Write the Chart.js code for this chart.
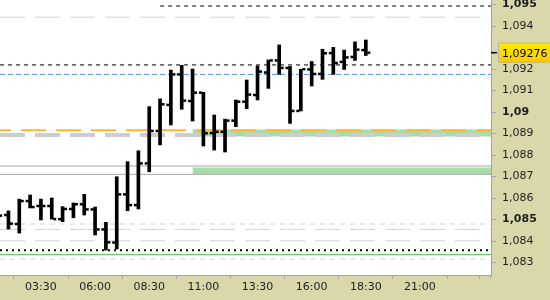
<!DOCTYPE html>
<html lang="en">
<head>
<meta charset="UTF-8">
<title>30m bars</title>
<script src="https://cdn.jsdelivr.net/npm/chart.js"></script>
<style>
  body { margin: 0; background: #fff; }
</style>
</head>
<body>
<canvas id="chart" width="550" height="300"></canvas>
<script>
// 30 minute bars, time in hours of the day
var times  = [1.5, 2, 2.5, 3, 3.5, 4, 4.5, 5, 5.5, 6, 6.5, 7, 7.5, 8, 8.5, 9, 9.5, 10, 10.5, 11, 11.5, 12, 12.5, 13, 13.5, 14, 14.5, 15, 15.5, 16, 16.5, 17, 17.5, 18, 18.5];
var opens  = [1.08520, 1.08521, 1.08479, 1.08586, 1.08563, 1.08563, 1.08502, 1.08549, 1.08571, 1.08547, 1.08454, 1.08393, 1.08617, 1.08567, 1.08761, 1.08912, 1.09033, 1.09175, 1.09051, 1.09090, 1.08902, 1.08908, 1.08960, 1.09048, 1.09079, 1.09184, 1.09240, 1.09205, 1.09005, 1.09198, 1.09177, 1.09274, 1.09233, 1.09256, 1.09288];
var highs  = [1.08540, 1.08540, 1.08595, 1.08614, 1.08595, 1.08600, 1.08560, 1.08577, 1.08617, 1.08558, 1.08487, 1.08699, 1.08769, 1.08820, 1.09025, 1.09061, 1.09195, 1.09217, 1.09200, 1.09092, 1.08986, 1.08967, 1.09056, 1.09149, 1.09214, 1.09242, 1.09312, 1.09212, 1.09199, 1.09235, 1.09292, 1.09301, 1.09288, 1.09326, 1.09335];
var lows   = [1.08490, 1.08456, 1.08437, 1.08554, 1.08498, 1.08502, 1.08490, 1.08508, 1.08521, 1.08428, 1.08358, 1.08363, 1.08541, 1.08549, 1.08722, 1.08847, 1.08940, 1.09013, 1.08958, 1.08842, 1.08823, 1.08814, 1.08932, 1.09016, 1.09056, 1.09110, 1.09175, 1.08947, 1.09005, 1.09121, 1.09152, 1.09175, 1.09198, 1.09240, 1.09263];
var closes = [1.08518, 1.08481, 1.08586, 1.08558, 1.08563, 1.08502, 1.08549, 1.08571, 1.08547, 1.08454, 1.08394, 1.08617, 1.08567, 1.08761, 1.08912, 1.09036, 1.09175, 1.09053, 1.09090, 1.08901, 1.08908, 1.08960, 1.09048, 1.09081, 1.09188, 1.09240, 1.09205, 1.09005, 1.09199, 1.09177, 1.09273, 1.09228, 1.09254, 1.09290, 1.09276];

// axis ticks
var yTicks  = [1.083, 1.084, 1.085, 1.086, 1.087, 1.088, 1.089, 1.090, 1.091, 1.092, 1.094, 1.095];
var xTicks  = [3.5, 6, 8.5, 11, 13.5, 16, 18.5, 21, 23.5, 24];
var xLabels = ['03:30', '06:00', '08:30', '11:00', '13:30', '16:00', '18:30', '21:00', '', ''];

// horizontal levels (null start = whole width)
var levelValues = [1.09493, 1.09441, 1.09219, 1.09175, 1.08915, 1.08893, 1.08749, 1.08710, 1.08479, 1.08454, 1.08401, 1.08357, 1.08338, 1.08316];
var levelStart  = [9, null, null, null, null, null, null, null, null, null, null, null, null, null];

// green zones
var bandLow   = [1.08886, 1.08712];
var bandHigh  = [1.08919, 1.08742];
var bandStart = [10.5, 10.5];

var xMin = 1.61, xMax = 24.28;
var yMin = 1.08242, yMax = 1.09521;

var FONT = 'DejaVu Sans';
var BEIGE = '#dad7ab';

var levelStyles = [
    { color: '#000000', width: 1, dash: [4, 4] },
    { color: '#d2d2d2', width: 1, dash: [25, 10] },
    { color: '#000000', width: 1, dash: [4, 4] },
    { color: '#4f8ff5', width: 1, dash: [5, 3] },
    { color: '#ffb62e', width: 2, dash: [25, 10], offset: 14 },
    { color: '#cdcdcd', width: 4, dash: [25, 10] },
    { color: '#a8a8a8', width: 1 },
    { color: '#a8a8a8', width: 1 },
    { color: '#d2d2d2', width: 1, dash: [5, 5] },
    { color: '#d2d2d2', width: 1, dash: [25, 10] },
    { color: '#d2d2d2', width: 1, dash: [25, 10] },
    { color: '#000000', width: 2, dash: [2, 4] },
    { color: '#44cc44', width: 1 },
    { color: '#d2d2d2', width: 1, dash: [5, 5] }
];

function fmtPrice(v) {
    return String(parseFloat(Number(v).toFixed(5))).replace('.', ',');
}

var datasets = [];

// high-low range of each bar
datasets.push({
    type: 'bar',
    data: times.map(function(t, i) { return { x: t, y: [lows[i], highs[i]] }; }),
    backgroundColor: '#000000',
    barThickness: 3,
    order: 0
});

levelValues.forEach(function(v, i) {
    var s = levelStyles[i];
    var from = levelStart[i] === null ? xMin : levelStart[i];
    datasets.push({
        type: 'line',
        data: [{ x: from, y: v }, { x: xMax, y: v }],
        borderColor: s.color,
        borderWidth: s.width,
        borderDash: s.dash || [],
        borderDashOffset: s.offset || 0,
        pointRadius: 0,
        tension: 0,
        fill: false,
        order: 1
    });
});

bandLow.forEach(function(v, i) {
    datasets.push({
        type: 'line',
        data: [{ x: bandStart[i], y: bandHigh[i] }, { x: xMax, y: bandHigh[i] }],
        borderColor: 'rgba(0,0,0,0)',
        backgroundColor: '#a7dea7',
        pointRadius: 0,
        fill: '+1',
        order: 2
    });
    datasets.push({
        type: 'line',
        data: [{ x: bandStart[i], y: v }, { x: xMax, y: v }],
        borderColor: 'rgba(0,0,0,0)',
        pointRadius: 0,
        fill: false,
        order: 2
    });
});

// background: beige frame, white plot
var frame = {
    id: 'frame',
    beforeDraw: function(chart) {
        var ctx = chart.ctx, a = chart.chartArea;
        ctx.save();
        ctx.fillStyle = BEIGE;
        ctx.fillRect(0, 0, chart.width, chart.height);
        ctx.fillStyle = '#ffffff';
        ctx.fillRect(a.left, a.top, a.right - a.left, a.bottom - a.top);
        ctx.restore();
    }
};

// open / close ticks
var ohlcTicks = {
    id: 'ohlcTicks',
    afterDatasetsDraw: function(chart) {
        var meta = chart.getDatasetMeta(0);
        var y = chart.scales.y, ctx = chart.ctx, a = chart.chartArea;
        ctx.save();
        ctx.beginPath();
        ctx.rect(a.left, a.top, a.right - a.left, a.bottom - a.top);
        ctx.clip();
        ctx.fillStyle = '#000000';
        meta.data.forEach(function(bar, i) {
            var yo = y.getPixelForValue(opens[i]);
            var yc = y.getPixelForValue(closes[i]);
            ctx.fillRect(bar.x - 4.5, yo - 1.25, 3, 2.5);
            ctx.fillRect(bar.x + 1.5, yc - 1.25, 3, 2.5);
        });
        ctx.restore();
    }
};

// last price marker on the price axis
var priceTag = {
    id: 'priceTag',
    afterDraw: function(chart) {
        var ctx = chart.ctx, a = chart.chartArea;
        var last = closes[closes.length - 1];
        var py = chart.scales.y.getPixelForValue(last);
        ctx.save();
        ctx.strokeStyle = '#000000';
        ctx.lineWidth = 1.5;
        ctx.beginPath();
        ctx.moveTo(a.right, py);
        ctx.lineTo(a.right + 6, py);
        ctx.stroke();
        var g = ctx.createLinearGradient(0, py - 10, 0, py + 10);
        g.addColorStop(0, '#ffec00');
        g.addColorStop(1, '#ffc800');
        ctx.fillStyle = g;
        ctx.fillRect(a.right + 7, py - 10, 60, 20);
        ctx.strokeStyle = '#b8b8a0';
        ctx.lineWidth = 1;
        ctx.strokeRect(a.right + 7.5, py - 9.5, 60, 19);
        ctx.fillStyle = '#000000';
        ctx.font = '11px "' + FONT + '"';
        ctx.textBaseline = 'middle';
        ctx.fillText(fmtPrice(last), a.right + 11, py + 1);
        ctx.restore();
    }
};

var ctx = document.getElementById('chart').getContext('2d');
var chart = new Chart(ctx, {
    type: 'bar',
    data: { datasets: datasets },
    options: {
        responsive: false,
        animation: false,
        layout: { padding: 0 },
        plugins: {
            legend: { display: false },
            tooltip: { enabled: false }
        },
        scales: {
            x: {
                type: 'linear',
                min: xMin,
                max: xMax,
                offset: false,
                afterBuildTicks: function(s) { s.ticks = xTicks.map(function(v) { return { value: v }; }); },
                afterFit: function(s) { s.height = 25; s.paddingLeft = 0; s.paddingRight = 0; },
                grid: { drawOnChartArea: false, tickLength: 4, color: '#a8a8a8' },
                border: { color: '#a4a4a4' },
                ticks: {
                    autoSkip: false,
                    maxRotation: 0,
                    padding: 2,
                    color: '#1e1e1e',
                    font: { family: FONT, size: 11 },
                    callback: function(v, i) { return xLabels[i]; }
                }
            },
            y: {
                position: 'right',
                min: yMin,
                max: yMax,
                afterBuildTicks: function(s) { s.ticks = yTicks.map(function(v) { return { value: v }; }); },
                afterFit: function(s) { s.width = 59; s.paddingTop = 0; s.paddingBottom = 0; },
                grid: { drawOnChartArea: false, tickLength: 5, color: '#a8a8a8' },
                border: { color: '#a4a4a4' },
                ticks: {
                    autoSkip: false,
                    padding: 6,
                    color: '#1e1e1e',
                    font: function(c) {
                        var v = c.tick ? c.tick.value : 0;
                        var bold = Math.abs(Math.round(v * 200) - v * 200) < 1e-6;
                        return { family: FONT, size: 11, weight: bold ? 'bold' : 'normal' };
                    },
                    callback: function(v) { return fmtPrice(v); }
                }
            }
        }
    },
    plugins: [frame, ohlcTicks, priceTag]
});
</script>
</body>
</html>
